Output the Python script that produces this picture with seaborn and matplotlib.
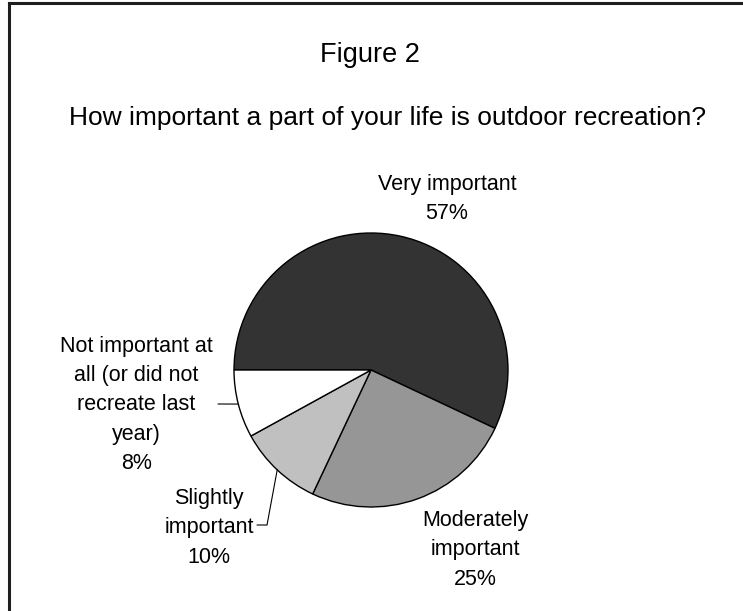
import matplotlib
matplotlib.use("Agg")
import matplotlib.pyplot as plt
import seaborn as sns
import numpy as np
from matplotlib.lines import Line2D

sns.set_theme(style="white")
plt.rcParams['font.family'] = ['Liberation Sans', 'DejaVu Sans']

categories = ["Very important", "Moderately\nimportant", "Slightly\nimportant",
              "Not important at\nall (or did not\nrecreate last\nyear)"]
values = [57, 25, 10, 8]
colors = ["#333333", "#969696", "#c0c0c0", "#ffffff"]
title = "Figure 2"
subtitle = "How important a part of your life is outdoor recreation?"

W, H = 743, 611
fig = plt.figure(figsize=(W / 100, H / 100), dpi=100)
fig.patch.set_facecolor("white")

cx, cy, r = 371, 370, 137
ax = fig.add_axes([(cx - r) / W, (H - cy - r) / H, 2 * r / W, 2 * r / H])
wedges, _ = ax.pie(values, colors=colors, startangle=180, counterclock=False,
                   radius=1, wedgeprops=dict(edgecolor="black", linewidth=1.0))
ax.set_xlim(-1, 1)
ax.set_ylim(-1, 1)
ax.axis("off")

def px2d(px, py):
    return ((px - cx) / r, (cy - py) / r)

label_pos = [px2d(447, 199), px2d(475, 550), px2d(209, 528), px2d(136.5, 405)]
for cat, v, (tx, ty) in zip(categories, values, label_pos):
    ax.text(tx, ty, f"{cat}\n{v}%", ha="center", va="center", fontsize=15.5,
            linespacing=1.52, color="black", clip_on=False)

def mid(w):
    a = np.deg2rad((w.theta1 + w.theta2) / 2)
    return np.cos(a), np.sin(a)

# leader lines
mx, my = mid(wedges[2])
p1 = px2d(267, 525)
p2 = px2d(257, 525)
ax.add_line(Line2D([mx, p1[0], p2[0]], [my, p1[1], p2[1]], color="black", lw=0.8, clip_on=False))
mx, my = mid(wedges[3])
p1 = px2d(218, 404)
ax.add_line(Line2D([mx, p1[0]], [my, p1[1]], color="black", lw=0.8, clip_on=False))

fig.text(370 / W, 1 - 55 / H, title, ha="center", va="center", fontsize=19.5, color="black")
fig.text(388 / W, 1 - 118 / H, subtitle, ha="center", va="center", fontsize=19, color="black")

# figure frame (left and top edges)
fig.add_artist(Line2D([9 / W, 9 / W], [0, 1 - 3 / H], transform=fig.transFigure,
                      color="#1e1e1e", lw=2.2, solid_capstyle="projecting"))
fig.add_artist(Line2D([9 / W, 1], [1 - 3 / H, 1 - 3 / H], transform=fig.transFigure,
                      color="#1e1e1e", lw=2.2, solid_capstyle="projecting"))

fig.savefig("out.png", dpi=100)
